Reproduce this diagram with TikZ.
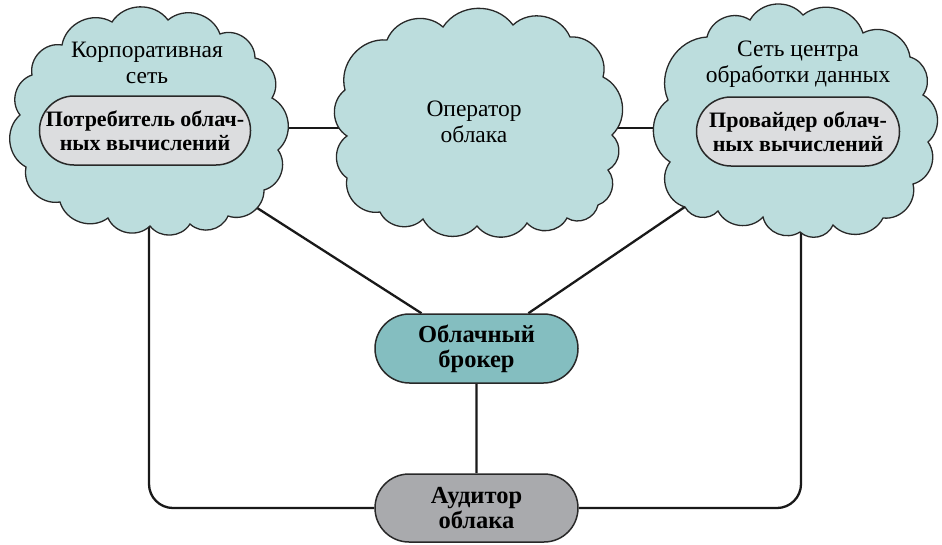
\documentclass[tikz,border=0pt]{standalone}
\usepackage{fontspec}
\setmainfont{Liberation Serif}
\usetikzlibrary{shapes.misc,backgrounds}
\definecolor{cloudfill}{RGB}{188,221,221}
\definecolor{brokerfill}{RGB}{132,190,192}
\definecolor{auditfill}{RGB}{169,170,173}
\definecolor{pillfill}{RGB}{220,221,223}
\definecolor{outl}{RGB}{40,40,40}
\begin{document}
\begin{tikzpicture}[x=1pt,y=-1pt,
  cloudline/.style={draw=outl, line width=1.3pt, fill=cloudfill},
  bump/.style={bend left=55, looseness=1.05},
  pill/.style={shape=rounded rectangle, draw=outl, line width=1.5pt,
    minimum width=203pt, minimum height=69pt, inner sep=0pt, align=center,
    font=\fontsize{22}{24}\selectfont\bfseries},
  bigpill/.style={pill, font=\fontsize{24.5}{25}\selectfont\bfseries},
  cloudtext/.style={align=center, inner sep=0pt, font=\fontsize{23.5}{26}\selectfont},
  link/.style={draw=black!90, line width=2.3pt}]
\useasboundingbox (0,0) rectangle (942,544);

% clouds
\draw[cloudline] (62,45) to[bump] (112,22) to[bump] (168,20) to[bump] (220,34)
  to[bump] (255,58) to[bump] (272,98) to[bump] (278,150) to[bump] (264,190)
  to[bump] (228,216) to[bump] (190,224) to[bump] (150,226) to[bump] (108,218)
  to[bump] (60,202) to[bump] (26,167) to[bump] (20,115) to[bump] (32,75)
  to[bump] (62,45) -- cycle;
\draw[cloudline] (387,40) to[bump] (443,27) to[bump] (513,25) to[bump] (570,37)
  to[bump] (603,77) to[bump] (612,135) to[bump] (608,170) to[bump] (598,205)
  to[bump] (567,218) to[bump] (527,223) to[bump] (477,226) to[bump] (423,219)
  to[bump] (380,212) to[bump] (347,178) to[bump] (347,136) to[bump] (345,90)
  to[bump] (387,40) -- cycle;
\draw[cloudline] (707,37) to[bump] (750,20) to[bump] (803,15) to[bump] (863,33)
  to[bump] (910,57) to[bump] (923,95) to[bump] (928,142) to[bump] (913,184)
  to[bump] (883,218) to[bump] (833,225) to[bump] (800,232) to[bump] (763,217)
  to[bump] (718,211) to[bump] (685,207) to[bump] (670,162) to[bump] (668,100)
  to[bump] (707,37) -- cycle;

% anchor points inside clouds
\coordinate (lcc) at (148,128);
\coordinate (mcc) at (477,128);
\coordinate (rcc) at (799,128);
\coordinate (ldg) at (240,197);
\coordinate (rdg) at (695,200);
\coordinate (lvt) at (149,200);
\coordinate (rvt) at (801,200);

% texts and nodes
\node[cloudtext] (lct) at (147,62.5) {Корпоративная\\сеть};
\node[cloudtext] (rct) at (798,64) {Сеть центра\\обработки данных};
\node[cloudtext] (opt) at (474,121.5) {Оператор\\облака};
\node[pill, fill=pillfill] (cons) at (145,130.5) {Потребитель облач-\\ных вычислений};
\node[pill, fill=pillfill] (prov) at (798,131.5) {Провайдер облач-\\ных вычислений};
\node[bigpill, fill=brokerfill] (br) at (476.5,348.5) {Облачный\\брокер};
\node[bigpill, fill=auditfill, minimum height=68pt] (aud) at (476.5,508) {Аудитор\\облака};

% connectors
\begin{scope}[on background layer]
  \draw[link] (lcc) -- (mcc);
  \draw[link] (mcc) -- (rcc);
  \draw[link] (ldg) -- (br);
  \draw[link] (rdg) -- (br);
  \draw[link] (br) -- (aud);
  \draw[link, rounded corners=24pt] (aud) -| (lvt);
  \draw[link, rounded corners=24pt] (aud) -| (rvt);
\end{scope}
\end{tikzpicture}
\end{document}
